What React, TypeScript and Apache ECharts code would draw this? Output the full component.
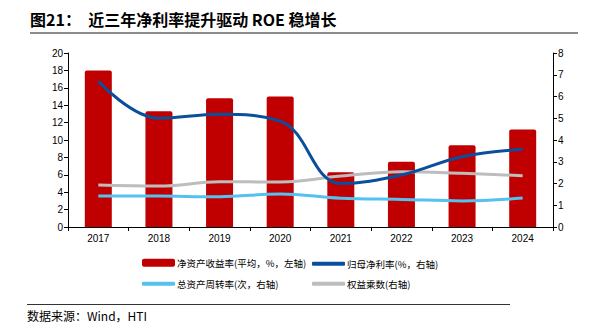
import React, { useEffect, useRef } from "react";
import * as echarts from "echarts";

const years = ["2017", "2018", "2019", "2020", "2021", "2022", "2023", "2024"];
const roe = [18.0, 13.3, 14.8, 15.0, 6.3, 7.5, 9.4, 11.2];
const netMargin = [6.7, 5.0, 5.18, 4.87, 2.0, 2.39, 3.23, 3.57];
const assetTurnover = [1.43, 1.42, 1.39, 1.52, 1.32, 1.27, 1.2, 1.33];
const equityMultiplier = [1.93, 1.88, 2.08, 2.07, 2.34, 2.54, 2.47, 2.36];

const names = [
  "净资产收益率(平均，%，左轴)",
  "归母净利率(%，右轴)",
  "总资产周转率(次，右轴)",
  "权益乘数(右轴)",
];
const colors = ["#C00000", "#0A4F9C", "#55C1EE", "#BDBDBD"];

const title = "图21：  近三年净利率提升驱动 ROE 稳增长";
const source = "数据来源：Wind，HTI";

export default function App() {
  const ref = useRef<HTMLDivElement>(null);
  useEffect(() => {
    const chart = echarts.init(ref.current!, null, { renderer: "svg" });
    const axisFont = { fontFamily: "Liberation Sans, Arial", fontSize: 10, color: "#000" };
    const legendFont = { fontFamily: "Noto Sans CJK SC", fontSize: 9.5, color: "#000" };
    const legendPos = [
      { left: 142, top: 258, h: 8 },
      { left: 312, top: 259, h: 4 },
      { left: 142, top: 279, h: 4 },
      { left: 312, top: 279, h: 4 },
    ];
    chart.setOption({
      animation: false,
      grid: { left: 68, right: 40, top: 53, bottom: 105, containLabel: false },
      legend: names.map((n, i) => ({
        data: [n],
        left: legendPos[i].left,
        top: legendPos[i].top,
        icon: "roundRect",
        itemWidth: 33,
        itemHeight: legendPos[i].h,
        itemGap: 2,
        padding: 0,
        textStyle: { ...legendFont, padding: [0, 0, 0, -3] },
      })),
      xAxis: {
        type: "category",
        data: years,
        axisLine: { lineStyle: { color: "#000", width: 1 } },
        axisTick: { show: true, length: 4, lineStyle: { color: "#000" } },
        axisLabel: { ...axisFont, margin: 6 },
      },
      yAxis: [
        {
          type: "value",
          min: 0,
          max: 20,
          interval: 2,
          axisLine: { show: true, lineStyle: { color: "#000" } },
          axisTick: { show: true, length: 4, lineStyle: { color: "#000" } },
          axisLabel: { ...axisFont, margin: 5 },
          splitLine: { show: false },
        },
        {
          type: "value",
          min: 0,
          max: 8,
          interval: 1,
          position: "right",
          axisLine: { show: true, lineStyle: { color: "#000" } },
          axisTick: { show: true, length: 4, lineStyle: { color: "#000" } },
          axisLabel: { ...axisFont, margin: 5 },
          splitLine: { show: false },
        },
      ],
      series: [
        {
          name: names[0],
          type: "bar",
          data: roe,
          barWidth: 27,
          itemStyle: { color: colors[0], borderRadius: [2, 2, 0, 0] },
        },
        {
          name: names[1],
          type: "line",
          yAxisIndex: 1,
          data: netMargin,
          smooth: 0.4,
          showSymbol: false,
          lineStyle: { color: colors[1], width: 3 },
          itemStyle: { color: colors[1] },
          z: 5,
        },
        {
          name: names[2],
          type: "line",
          yAxisIndex: 1,
          data: assetTurnover,
          smooth: 0.4,
          showSymbol: false,
          lineStyle: { color: colors[2], width: 3 },
          itemStyle: { color: colors[2] },
          z: 3,
        },
        {
          name: names[3],
          type: "line",
          yAxisIndex: 1,
          data: equityMultiplier,
          smooth: 0.4,
          showSymbol: false,
          lineStyle: { color: colors[3], width: 3 },
          itemStyle: { color: colors[3] },
          z: 4,
        },
      ],
      graphic: [
        {
          type: "text",
          left: 30,
          top: 11,
          style: {
            text: title,
            font: "bold 16px 'Noto Sans CJK SC'",
            fill: "#000",
          },
        },
        {
          type: "line",
          shape: { x1: 30, y1: 33, x2: 578, y2: 33 },
          style: { stroke: "#8C8C8C", lineWidth: 2 },
        },
        {
          type: "line",
          shape: { x1: 27, y1: 304.5, x2: 510, y2: 304.5 },
          style: { stroke: "#333", lineWidth: 1 },
        },
        {
          type: "text",
          left: 27,
          top: 309,
          style: {
            text: source,
            font: "12px 'Noto Sans CJK SC'",
            fill: "#000",
          },
        },
      ],
    });
    return () => chart.dispose();
  }, []);
  return (
    <div
      ref={ref}
      style={{ position: "fixed", left: 0, top: 0, width: 593, height: 332, background: "#fff" }}
    />
  );
}
